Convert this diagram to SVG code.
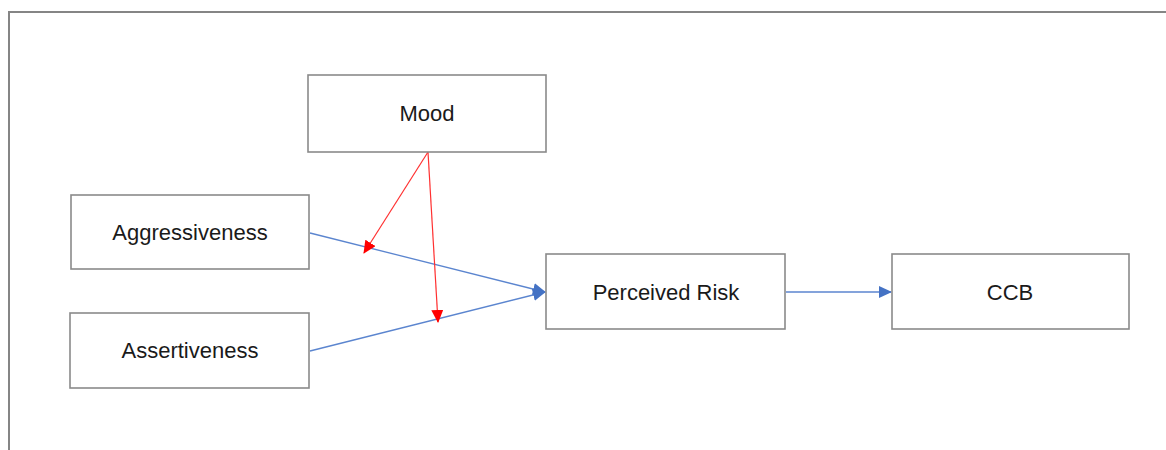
<svg xmlns="http://www.w3.org/2000/svg" width="1166" height="450" viewBox="0 0 1166 450">
<style>
.box{fill:#fff;stroke:#8a8a8a;stroke-width:1.6}
.lbl{font-family:"Liberation Sans",Arial,sans-serif;font-size:22px;fill:#1a1a1a;text-anchor:middle;dominant-baseline:central}
.blue{stroke:#5b85cf;stroke-width:1.3;fill:none}
.red{stroke:#ff3030;stroke-width:1.2;fill:none}
</style>
<defs>
<marker id="ab" markerWidth="13" markerHeight="12" refX="12" refY="6" orient="auto" markerUnits="userSpaceOnUse"><path d="M0,0 L13,6 L0,12 Z" fill="#4472c4"/></marker>
<marker id="ar" markerWidth="13" markerHeight="12" refX="12" refY="6" orient="auto" markerUnits="userSpaceOnUse"><path d="M0,0 L13,6 L0,12 Z" fill="#ff0000"/></marker>
</defs>
<rect width="1166" height="450" fill="#fff"/>
<path d="M9,450 V12 H1166" fill="none" stroke="#858585" stroke-width="2"/>
<g id="connectors">
<line class="blue" x1="310" y1="233" x2="545" y2="292" marker-end="url(#ab)"/>
<line class="blue" x1="310" y1="351" x2="545" y2="292" marker-end="url(#ab)"/>
<line class="blue" x1="786" y1="292" x2="891" y2="292" marker-end="url(#ab)"/>
<line class="red" x1="428" y1="152" x2="364" y2="253" marker-end="url(#ar)"/>
<line class="red" x1="428" y1="152" x2="438" y2="322" marker-end="url(#ar)"/>
</g>
<g id="mood"><rect class="box" x="308" y="75" width="238" height="77"/><text class="lbl" x="427" y="113">Mood</text></g>
<g id="aggressiveness"><rect class="box" x="71" y="195" width="238" height="74"/><text class="lbl" x="190" y="232">Aggressiveness</text></g>
<g id="assertiveness"><rect class="box" x="70" y="313" width="239" height="75"/><text class="lbl" x="190" y="350">Assertiveness</text></g>
<g id="perceived-risk"><rect class="box" x="546" y="254" width="239" height="75"/><text class="lbl" x="666" y="292">Perceived Risk</text></g>
<g id="ccb"><rect class="box" x="892" y="254" width="237" height="75"/><text class="lbl" x="1010" y="292">CCB</text></g>
</svg>
